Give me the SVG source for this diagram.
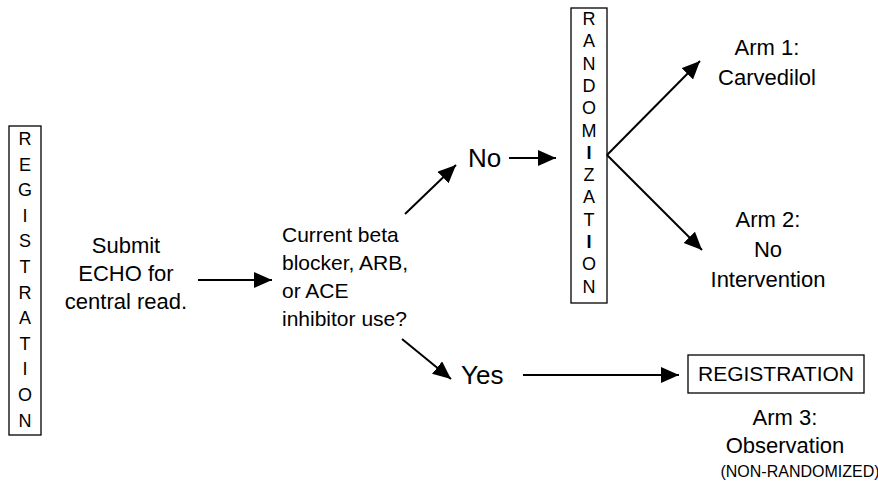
<svg xmlns="http://www.w3.org/2000/svg" width="878" height="482" viewBox="0 0 878 482">
<style>
text{font-family:"Liberation Sans",Arial,sans-serif;fill:#000}
.t{font-size:22px}
.q{font-size:21px}
.big{font-size:26px}
.v{font-size:18px;text-anchor:middle}
.c{text-anchor:middle}
.box{fill:#fff;stroke:#000;stroke-width:1.3}
.ln{stroke:#000;stroke-width:2;fill:none;marker-end:url(#ah)}
</style>
<defs>
<marker id="ah" markerUnits="userSpaceOnUse" markerWidth="20" markerHeight="18" refX="18" refY="8" orient="auto">
<path d="M0,0 L18,8 L0,16 Z" fill="#000"/>
</marker>
</defs>
<g id="registration-left">
<rect class="box" x="9" y="126" width="32" height="309"/>
<text class="v" x="25" y="145">R</text>
<text class="v" x="25" y="170.6">E</text>
<text class="v" x="25" y="196.2">G</text>
<text class="v" x="25" y="221.8">I</text>
<text class="v" x="25" y="247.4">S</text>
<text class="v" x="25" y="273">T</text>
<text class="v" x="25" y="298.6">R</text>
<text class="v" x="25" y="324.2">A</text>
<text class="v" x="25" y="349.8">T</text>
<text class="v" x="25" y="375.4">I</text>
<text class="v" x="25" y="401">O</text>
<text class="v" x="25" y="426.6">N</text>
</g>
<g id="submit">
<text class="t c" x="126" y="253">Submit</text>
<text class="t c" x="126" y="281">ECHO for</text>
<text class="t c" x="126" y="309">central read.</text>
</g>
<g id="question">
<text class="q" x="282" y="242">Current beta</text>
<text class="q" x="282" y="270">blocker, ARB,</text>
<text class="q" x="282" y="298">or ACE</text>
<text class="q" x="282" y="326">inhibitor use?</text>
</g>
<g id="no"><text class="big" x="468" y="167">No</text></g>
<g id="yes"><text class="big" x="461" y="384">Yes</text></g>
<g id="randomization">
<rect class="box" x="571" y="8" width="36" height="295"/>
<text class="v" x="589" y="25">R</text>
<text class="v" x="589" y="47.3">A</text>
<text class="v" x="589" y="69.6">N</text>
<text class="v" x="589" y="91.9">D</text>
<text class="v" x="589" y="114.2">O</text>
<text class="v" x="589" y="136.5">M</text>
<text class="v" x="589" y="158.8" font-weight="bold">I</text>
<text class="v" x="589" y="181.1">Z</text>
<text class="v" x="589" y="203.4">A</text>
<text class="v" x="589" y="225.7">T</text>
<text class="v" x="589" y="248" font-weight="bold">I</text>
<text class="v" x="589" y="270.3">O</text>
<text class="v" x="589" y="292.6">N</text>
</g>
<g id="arm1">
<text class="t c" x="767" y="55">Arm 1:</text>
<text class="t c" x="767" y="85">Carvedilol</text>
</g>
<g id="arm2">
<text class="t c" x="768" y="227">Arm 2:</text>
<text class="t c" x="768" y="257">No</text>
<text class="t c" x="768" y="287">Intervention</text>
</g>
<g id="registration-right">
<rect class="box" x="688" y="355" width="176" height="38"/>
<text class="c" x="776" y="381" font-size="21">REGISTRATION</text>
</g>
<g id="arm3">
<text class="t c" x="785" y="425">Arm 3:</text>
<text class="t c" x="785" y="453">Observation</text>
<text class="c" x="800" y="477" font-size="16">(NON-RANDOMIZED)</text>
</g>
<g id="connectors">
<line class="ln" x1="198" y1="280" x2="272" y2="280"/>
<line class="ln" x1="405" y1="214" x2="456" y2="165"/>
<line class="ln" x1="509" y1="158" x2="556" y2="158"/>
<line class="ln" x1="402" y1="339" x2="451" y2="379"/>
<line class="ln" x1="523" y1="375" x2="679" y2="375"/>
<line class="ln" x1="607" y1="155" x2="700" y2="61"/>
<line class="ln" x1="607" y1="155" x2="702" y2="250"/>
</g>
</svg>
